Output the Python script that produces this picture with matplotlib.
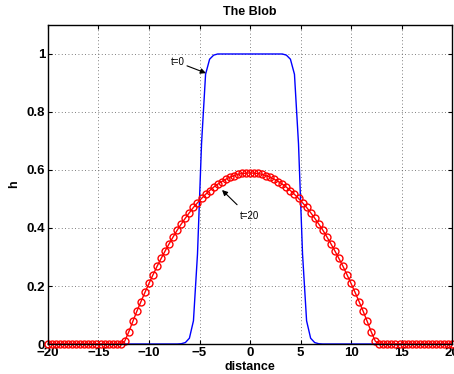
import matplotlib.pyplot as plt
from matplotlib.ticker import FuncFormatter
import numpy as np

plt.rcParams['font.family'] = ['Liberation Sans', 'DejaVu Sans']

# grid of 101 points from -20 to 20 (step 0.4)
x = np.linspace(-20, 20, 101)

# t=0 profile, right half from x=0 to x=20
h0_half = [1.0, 1.0, 1.0, 1.0, 1.0, 1.0, 1.0, 1.0, 1.0, 0.996,
           0.982, 0.93, 0.69, 0.31, 0.08, 0.02, 0.005, 0.001, 0.0, 0.0,
           0.0, 0.0, 0.0, 0.0, 0.0, 0.0, 0.0, 0.0, 0.0, 0.0,
           0.0, 0.0, 0.0, 0.0, 0.0, 0.0, 0.0, 0.0, 0.0, 0.0,
           0.0, 0.0, 0.0, 0.0, 0.0, 0.0, 0.0, 0.0, 0.0, 0.0, 0.0]
# t=20 profile, right half from x=0 to x=20
h20_half = [0.590, 0.589, 0.588, 0.585, 0.580, 0.575, 0.568, 0.560, 0.551, 0.541,
            0.529, 0.516, 0.502, 0.487, 0.471, 0.453, 0.434, 0.414, 0.393, 0.370,
            0.346, 0.321, 0.295, 0.268, 0.239, 0.209, 0.178, 0.146, 0.113, 0.078,
            0.042, 0.010, 0.0, 0.0, 0.0, 0.0, 0.0, 0.0, 0.0, 0.0,
            0.0, 0.0, 0.0, 0.0, 0.0, 0.0, 0.0, 0.0, 0.0, 0.0, 0.0]

h0 = h0_half[:0:-1] + h0_half
h20 = h20_half[:0:-1] + h20_half

fig = plt.figure(figsize=(4.54, 3.74), dpi=100)
ax = fig.add_axes([0.1057, 0.0802, 0.89, 0.853])

ax.plot(x, h0, color='#0000ff', lw=1.0)
ax.plot(x, h20, color='#ff0000', lw=1.0, marker='o', markersize=5,
        markerfacecolor='none', markeredgewidth=1.0, clip_on=False)

ax.annotate('t=0', xy=(-4.36, 0.934), xytext=(-7.2, 0.972),
            fontsize=7, ha='center', va='center',
            arrowprops=dict(arrowstyle='-|>', color='black', lw=0.8,
                            mutation_scale=8, shrinkA=0, shrinkB=0))
ax.annotate('t=20', xy=(-2.77, 0.531), xytext=(-0.1, 0.44),
            fontsize=7, ha='center', va='center',
            arrowprops=dict(arrowstyle='-|>', color='black', lw=0.8,
                            mutation_scale=8, shrinkA=4, shrinkB=0))

ax.set_xlim(-20, 20)
ax.set_ylim(0, 1.1)
ax.set_xticks(range(-20, 21, 5))
ax.set_yticks([0, 0.2, 0.4, 0.6, 0.8, 1.0])
ax.yaxis.set_major_formatter(FuncFormatter(lambda v, p: '%g' % v))
ax.grid(True, linestyle=(0, (1, 3)), color='#555555', lw=0.6)
ax.tick_params(direction='in', length=3, width=0.8, labelsize=9.5, pad=2,
               top=True, right=True)
for lab in ax.get_xticklabels() + ax.get_yticklabels():
    lab.set_fontweight('bold')
for s in ax.spines.values():
    s.set_linewidth(1.0)

ax.set_title('The Blob', fontsize=9, fontweight='bold', pad=7)
ax.set_xlabel('distance', fontsize=9, fontweight='bold', labelpad=1.5)
ax.set_ylabel('h', fontsize=9, fontweight='bold', labelpad=5)

fig.savefig('out.png', dpi=100)
